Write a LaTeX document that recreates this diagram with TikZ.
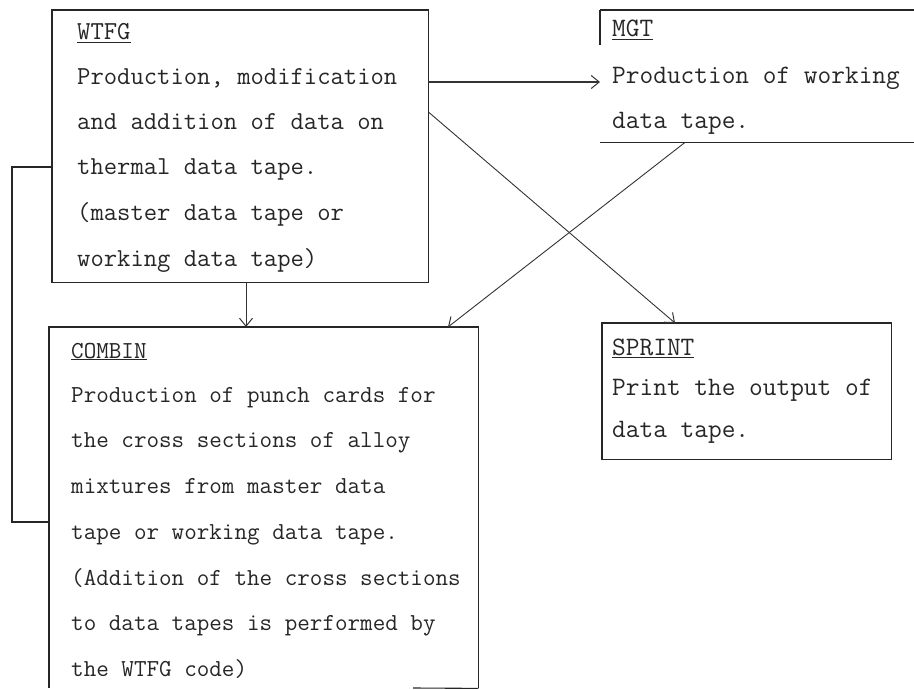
\documentclass[tikz,border=0pt]{standalone}
\usepackage{fontspec}
\usetikzlibrary{arrows.meta}
\begin{document}
\begin{tikzpicture}[x=1pt,y=-1pt,
  frame/.style={draw=none,rectangle,inner sep=0pt,anchor=north west},
  edge/.style={line width=1.1pt,draw=black!85},
  link/.style={line width=0.9pt,draw=black!80,-{Straight Barb[length=8pt,width=13pt,line width=1pt]}},
  loopline/.style={line width=1.1pt,draw=black!85},
  wtxt/.style={anchor=base west,inner sep=0pt,font=\ttfamily\fontsize{25.9}{28}\selectfont,text=black!85},
  ctxt/.style={anchor=base west,inner sep=0pt,font=\ttfamily\fontsize{24.4}{28}\selectfont,text=black!85},
  mtxt/.style={anchor=base west,inner sep=0pt,font=\ttfamily\fontsize{26.6}{28}\selectfont,text=black!85}]
\useasboundingbox (0,0) rectangle (914,690);

% program boxes
\node[frame,minimum width=376pt,minimum height=272pt] (wtfg) at (52,10) {};
\node[frame,minimum width=314pt,minimum height=132pt] (mgt) at (600,10) {};
\node[frame,minimum width=429pt,minimum height=361pt] (combin) at (49,327) {};
\node[frame,minimum width=289pt,minimum height=136pt] (sprint) at (602,323) {};

\draw[edge] (wtfg.north west) rectangle (wtfg.south east);
\draw[edge] (sprint.north west) rectangle (sprint.south east);
\draw[edge] (mgt.north west) -- (mgt.north east);
\draw[edge] (mgt.south west) -- (mgt.south east);
\draw[edge] (mgt.north west) -- ++(0,35);
\draw[edge] (combin.south west) -- (combin.north west) -- (combin.north east) -- (combin.south east);
\coordinate (cb) at (413,688);
\draw[edge] (cb) -- (combin.south east);

% text of the boxes
\node[wtxt] (w1) at (77,40) {\underline{WTFG}};
\node[wtxt] (w2) at (77,85) {Production, modification};
\node[wtxt] (w3) at (77,130) {and addition of data on};
\node[wtxt] (w4) at (77,175) {thermal data tape.};
\node[wtxt] (w5) at (77,221) {(master data tape or};
\node[wtxt] (w6) at (77,266) {working data tape)};

\node[mtxt] (m1) at (612,37) {\underline{MGT}};
\node[mtxt] (m2) at (612,84) {Production of working};
\node[mtxt] (m3) at (612,129) {data tape.};

\node[ctxt] (c1) at (71,358) {\underline{COMBIN}};
\node[ctxt] (c2) at (71,402) {Production of punch cards for};
\node[ctxt] (c3) at (71,447) {the cross sections of alloy};
\node[ctxt] (c4) at (71,493) {mixtures from master data};
\node[ctxt] (c5) at (71,539) {tape or working data tape.};
\node[ctxt] (c6) at (71,585) {(Addition of the cross sections};
\node[ctxt] (c7) at (71,630) {to data tapes is performed by};
\node[ctxt] (c8) at (71,676) {the WTFG code)};

\node[mtxt] (s1) at (612,355) {\underline{SPRINT}};
\node[mtxt] (s2) at (612,395) {Print the output of};
\node[mtxt] (s3) at (612,437) {data tape.};

% connectors
\coordinate (ya) at (0,82);
\coordinate (yb) at (0,112);
\coordinate (xa) at (675,0);
\coordinate (xb) at (685,0);
\coordinate (xc) at (448,0);
\coordinate (xd) at (246,0);
\coordinate (yc) at (0,522);
\coordinate (yd) at (0,167);
\coordinate (la) at (12,522);
\coordinate (lb) at (12,167);

\draw[link,line width=1.2pt] (wtfg.east |- ya) -- (mgt.west |- ya);
\draw[link] (wtfg.east |- yb) -- (sprint.north -| xa);
\draw[link] (mgt.south -| xb) -- (combin.north -| xc);
\draw[link] (wtfg.south -| xd) -- (combin.north -| xd);
\draw[loopline] (combin.west |- yc) -- (la) -- (lb) -- (wtfg.west |- yd);
\end{tikzpicture}
\end{document}
